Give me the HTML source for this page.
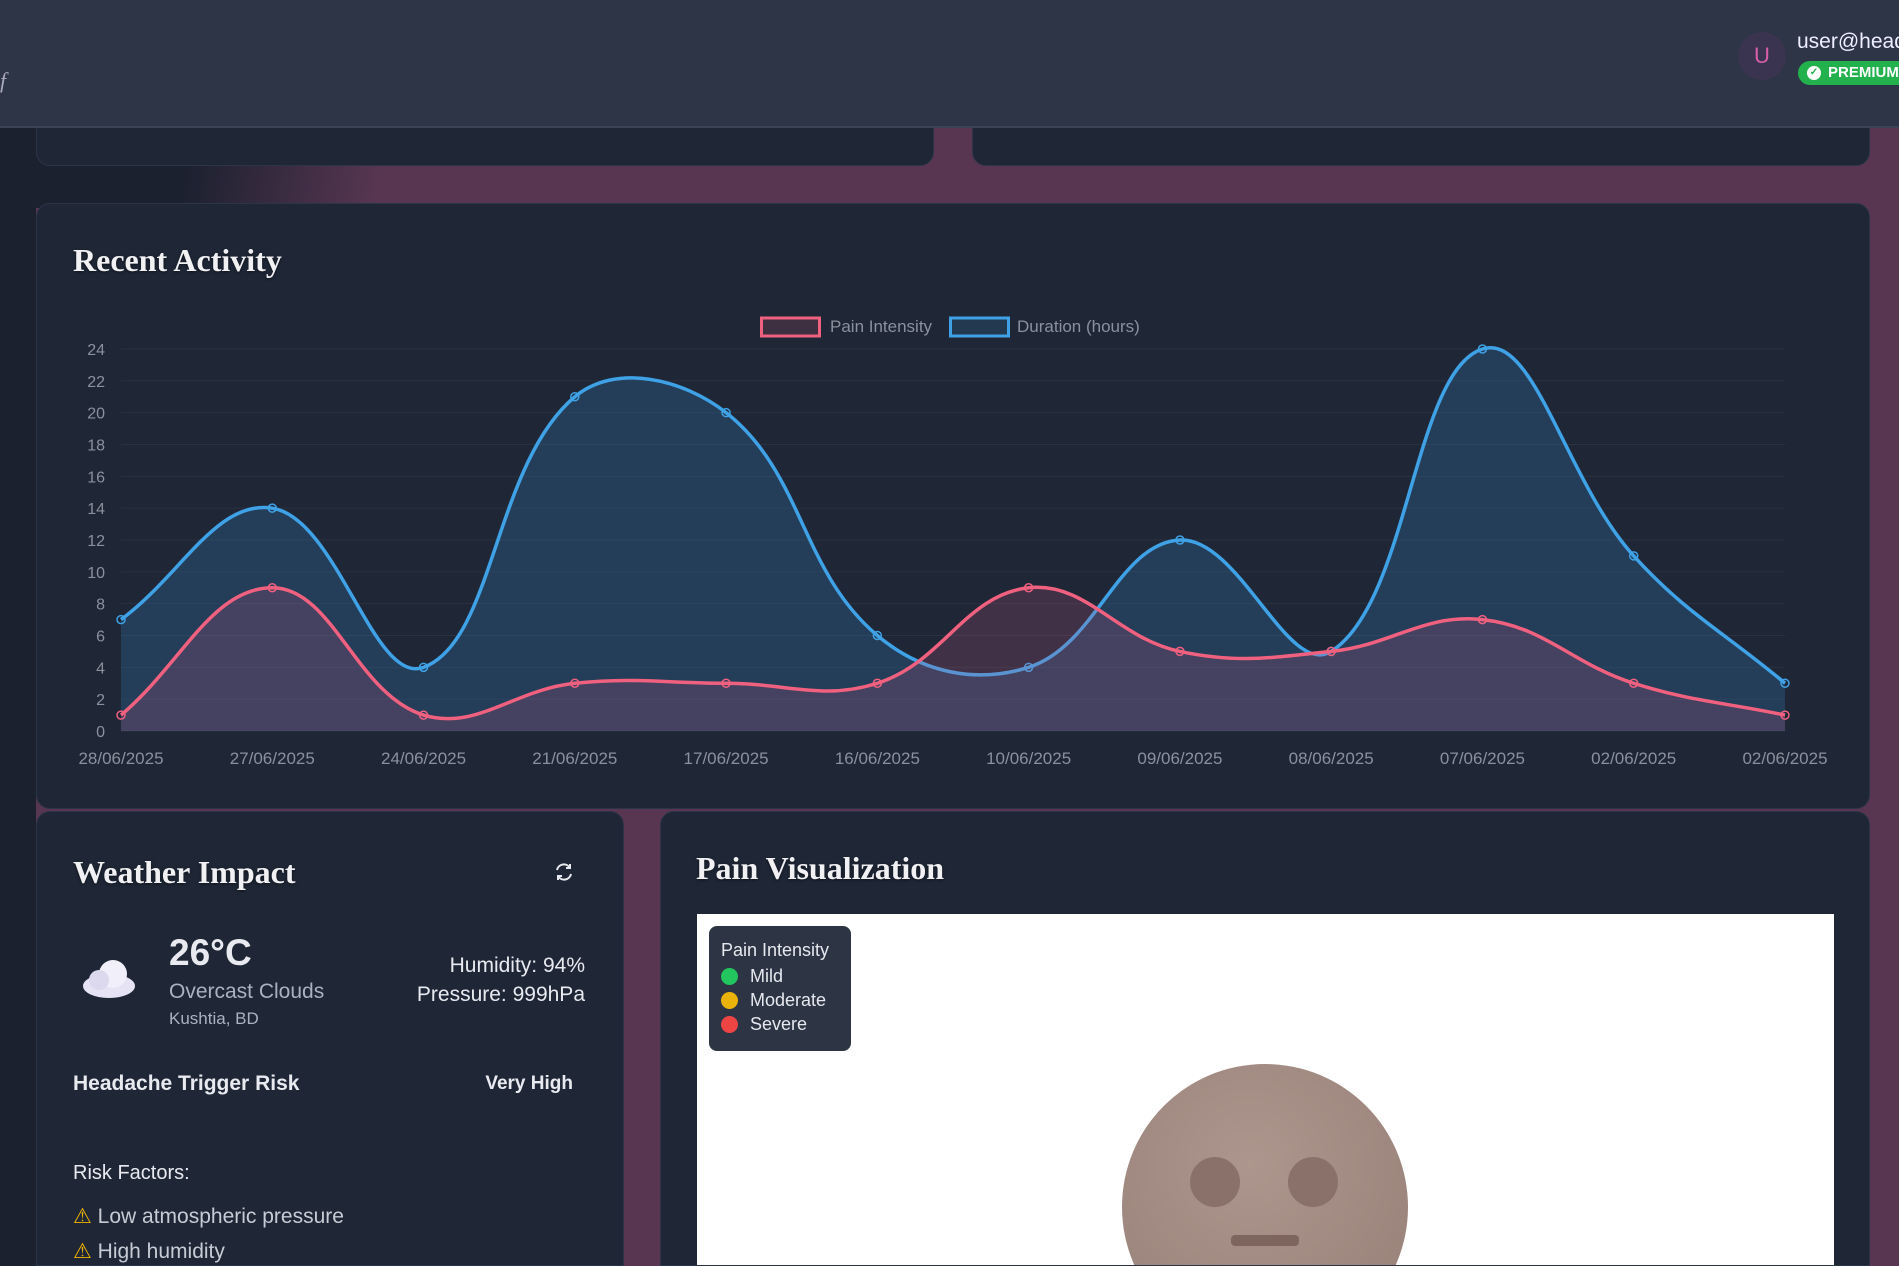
<!DOCTYPE html>
<html style="width:1899px;height:1266px;overflow:hidden"><head><meta charset="utf-8">
<style>
*{box-sizing:border-box;margin:0;padding:0}
body{width:1899px;height:1266px;overflow:hidden;position:relative;font-family:"Liberation Sans",sans-serif;background:#583652}
.abs{position:absolute}
.card{position:absolute;background:#1f2737;border-radius:14px;border:1px solid #2c3547}
.serif{font-family:"Liberation Serif",serif;font-weight:bold;color:#f1f1f4;text-shadow:0 1px 3px rgba(0,0,0,.6)}
.txt{color:#e8eaf0}
</style></head><body>
<div class="abs" style="left:0;top:0;width:36px;height:1266px;background:#1c2130"></div>
<div class="abs" style="left:0;top:128px;width:420px;height:80px;background:linear-gradient(100deg,#1c2130 45%,rgba(88,54,82,0) 90%)"></div>
<div class="card" style="left:36px;top:110px;width:898px;height:56px"></div>
<div class="card" style="left:972px;top:110px;width:898px;height:56px"></div>
<div class="abs" style="left:0;top:0;width:1899px;height:128px;background:#2d3546;border-bottom:2px solid #3b4457;overflow:hidden">
  <div class="abs" style="left:0;top:68px;color:#aab;font-style:italic;font-family:'Liberation Serif',serif;font-size:22px">f</div>
  <div class="abs" style="left:1738px;top:32px;width:48px;height:48px;border-radius:50%;background:#3a3450;color:#d75fa8;font-size:22px;text-align:center;line-height:48px">U</div>
  <div class="abs" style="left:1797px;top:30px;color:#eef;font-size:21px;white-space:nowrap">user@headache</div>
  <div class="abs" style="left:1798px;top:61px;width:101px;height:24px;border-radius:12px 0 0 12px;background:#22b14c;color:#fff;font-weight:bold;font-size:15px;line-height:24px;padding-left:30px;overflow:hidden;white-space:nowrap">PREMIUM<span style="position:absolute;left:9px;top:5px;width:14px;height:14px;border-radius:50%;background:#fff;color:#22b14c;font-size:10px;line-height:14px;text-align:center">✓</span></div>
</div>

<div class="card" style="left:36px;top:203px;width:1834px;height:606px">
  <div class="abs serif" style="left:36px;top:38px;font-size:32px">Recent Activity</div>
</div>
<svg class="abs" id="chart" style="left:0;top:0" width="1899" height="820"></svg>

<div class="card" style="left:36px;top:811px;width:588px;height:455px;border-radius:14px 14px 0 0;overflow:hidden">
  <div class="abs serif" style="left:36px;top:42px;font-size:32px">Weather Impact</div>
  <svg class="abs" style="left:516px;top:49px" width="22" height="22" viewBox="0 0 22 22"><path d="M4 9a7 7 0 0 1 13-2M18 13a7 7 0 0 1-13 2" fill="none" stroke="#e8eaf0" stroke-width="2"/><path d="M17 3v4h-4M5 19v-4h4" fill="none" stroke="#e8eaf0" stroke-width="2"/></svg>
  <svg class="abs" style="left:42px;top:144px" width="60" height="44" viewBox="0 0 60 44"><ellipse cx="30" cy="30" rx="26" ry="12" fill="#e6e4f4"/><circle cx="34" cy="18" r="14" fill="#f1effa"/><circle cx="20" cy="24" r="10" fill="#dcd8ee"/></svg>
  <div class="abs txt" style="left:132px;top:120px;font-size:37px;font-weight:bold">26°C</div>
  <div class="abs" style="left:132px;top:168px;font-size:21px;color:#aab1bf">Overcast Clouds</div>
  <div class="abs" style="left:132px;top:197px;font-size:17px;color:#aab1bf">Kushtia, BD</div>
  <div class="abs txt" style="right:38px;top:142px;font-size:21px;text-align:right">Humidity: 94%</div>
  <div class="abs txt" style="right:38px;top:171px;font-size:21px;text-align:right">Pressure: 999hPa</div>
  <div class="abs txt" style="left:36px;top:260px;font-size:21px;font-weight:bold">Headache Trigger Risk</div>
  <div class="abs txt" style="right:50px;top:261px;font-size:19px;font-weight:bold">Very High</div>
  <div class="abs txt" style="left:36px;top:350px;font-size:20px">Risk Factors:</div>
  <div class="abs" style="left:36px;top:392px;font-size:21px;color:#c7cbd4"><span style="color:#f0b400">⚠</span> Low atmospheric pressure</div>
  <div class="abs" style="left:36px;top:427px;font-size:21px;color:#c7cbd4"><span style="color:#f0b400">⚠</span> High humidity</div>
</div>

<div class="card" style="left:660px;top:811px;width:1210px;height:455px;border-radius:14px 14px 0 0;overflow:hidden">
  <div class="abs serif" style="left:35px;top:38px;font-size:32px">Pain Visualization</div>
  <div class="abs" style="left:36px;top:102px;width:1137px;height:352px;background:#fff;overflow:hidden">
    <div class="abs" style="left:12px;top:12px;width:142px;height:125px;background:#2d3544;border-radius:8px;color:#e6e8ee;font-size:18px;padding:12px 0 0 12px;line-height:24px">
      <div style="margin-bottom:2px">Pain Intensity</div>
      <div><span style="display:inline-block;width:17px;height:17px;border-radius:50%;background:#22c55e;vertical-align:-3px;margin-right:12px"></span>Mild</div>
      <div><span style="display:inline-block;width:17px;height:17px;border-radius:50%;background:#eab308;vertical-align:-3px;margin-right:12px"></span>Moderate</div>
      <div><span style="display:inline-block;width:17px;height:17px;border-radius:50%;background:#ef4444;vertical-align:-3px;margin-right:12px"></span>Severe</div>
    </div>
    <div class="abs" style="left:425px;top:150px;width:286px;height:286px;border-radius:50%;background:radial-gradient(circle at 45% 35%,#ad968d,#9c857c 70%,#8d766f)">
      <div class="abs" style="left:68px;top:93px;width:50px;height:50px;border-radius:50%;background:#8a7169"></div>
      <div class="abs" style="left:166px;top:93px;width:50px;height:50px;border-radius:50%;background:#8a7169"></div>
      <div class="abs" style="left:109px;top:171px;width:68px;height:11px;border-radius:4px;background:#7e665f"></div>
    </div>
  </div>
</div>

<script>
const labels=["28/06/2025","27/06/2025","24/06/2025","21/06/2025","17/06/2025","16/06/2025","10/06/2025","09/06/2025","08/06/2025","07/06/2025","02/06/2025","02/06/2025"];
const painValues=[1,9,1,3,3,3,9,5,5,7,3,1];
const durationValues=[7,14,4,21,20,6,4,12,5,24,11,3];
const yTicks=[0,2,4,6,8,10,12,14,16,18,20,22,24];
const svg=document.getElementById('chart');
const NS='http://www.w3.org/2000/svg';
const L=121,R=1785,T=349,B=731;
const xs=i=>L+(R-L)*i/(labels.length-1);
const ys=v=>B-(B-T)*v/24;
function mk(t,a,parent){const e=document.createElementNS(NS,t);for(const k in a)e.setAttribute(k,a[k]);(parent||svg).appendChild(e);return e;}
yTicks.forEach(v=>{
  const g=mk('line',{x1:L,x2:R,y1:ys(v),y2:ys(v),stroke:'#2a3242','stroke-width':1});
  
  
  const t=mk('text',{x:105,y:ys(v)+6,'text-anchor':'end',fill:'#8a909c','font-size':16,'font-family':'Liberation Sans, sans-serif'});
  t.textContent=v;
  
  
});
labels.forEach((l,i)=>{
  const t=mk('text',{x:xs(i),y:764,'text-anchor':'middle',fill:'#8a909c','font-size':17,'font-family':'Liberation Sans, sans-serif'});
  t.textContent=l;
  
  
});
function pathFor(vals){
  const p=vals.map((v,i)=>[xs(i),ys(v)]);const tn=0.4;
  let d='M'+p[0][0]+','+p[0][1];
  const cps=p.map((c,i)=>{
    const pr=p[Math.max(0,i-1)],nx=p[Math.min(p.length-1,i+1)];
    const d01=Math.hypot(c[0]-pr[0],c[1]-pr[1]),d12=Math.hypot(nx[0]-c[0],nx[1]-c[1]);
    let fa=d01/(d01+d12)||0,fb=d12/(d01+d12)||0;fa*=tn;fb*=tn;
    return {p:[c[0]-fa*(nx[0]-pr[0]),c[1]-fa*(nx[1]-pr[1])],n:[c[0]+fb*(nx[0]-pr[0]),c[1]+fb*(nx[1]-pr[1])]};
  });
  for(let i=1;i<p.length;i++){
    const a=cps[i-1].n,b=cps[i].p;
    let ay=Math.min(Math.max(a[1],T-40),B),by=Math.min(Math.max(b[1],T-40),B);
    d+=` C${a[0]},${ay} ${b[0]},${by} ${p[i][0]},${p[i][1]}`;
  }
  return {d,p};
}
function series(vals,stroke,fill,name){
  const {d,p}=pathFor(vals);
  const f=mk('path',{d:d+` L${R},${B} L${L},${B} Z`,fill:fill});
  
  
  const l=mk('path',{d:d,fill:'none',stroke:stroke,'stroke-width':3.5});
  
  
  p.forEach(q=>{
    const c=mk('circle',{cx:q[0],cy:q[1],r:4,fill:'none',stroke:stroke,'stroke-width':1.5});
    
    
  });
}
series(durationValues,'#3fa2e6','rgba(54,140,210,0.22)','duration');
series(painValues,'#f0607f','rgba(200,90,130,0.2)','pain');
const lg=[[760,'#f0607f','rgba(240,96,127,0.15)','Pain Intensity',830],[949,'#3fa2e6','rgba(63,162,230,0.15)','Duration (hours)',1017]];
lg.forEach(a=>{
  const r=mk('rect',{x:a[0]+1.5,y:318,width:58,height:18,fill:a[2],stroke:a[1],'stroke-width':3});
  
  
  const t=mk('text',{x:a[4],y:332,fill:'#8a909c','font-size':17,'font-family':'Liberation Sans, sans-serif'});
  t.textContent=a[3];
  
  
});
</script>
</body></html>
